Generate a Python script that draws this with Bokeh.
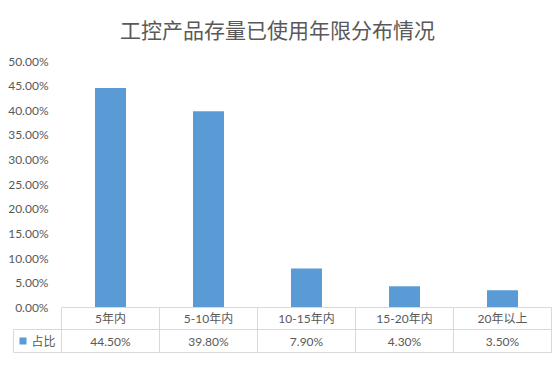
from bokeh.plotting import figure
from bokeh.models import Range1d, FixedTicker, PrintfTickFormatter
from bokeh.embed import file_html
from bokeh.resources import INLINE
from bokeh.core.properties import value

# ---- data ----
chart_title = "工控产品存量已使用年限分布情况"
categories = ["5年内", "5-10年内", "10-15年内", "15-20年内", "20年以上"]
shares = [44.5, 39.8, 7.9, 4.3, 3.5]
series_name = "占比"
y_ticks = [0, 5, 10, 15, 20, 25, 30, 35, 40, 45, 50]

# ---- style / layout constants (pixels) ----
W, H = 555, 365
LEFT, RIGHT = 12, 3          # frame spans nearly the whole canvas
PLOT_LEFT_PX = 61            # left edge of the category area
CELL_LEFT_PX = 13            # left edge of the data-table key cell
ZERO_PX = 307                # 0% baseline
HEAD_H, VAL_H = 22, 23       # data table row heights
TITLE_X_PX, TITLE_Y_PX = 277, 28
BAR_COLOR = "#5B9BD5"
TEXT_COLOR = "#595959"
GRID_COLOR = "#D9D9D9"
FONT = "Lato, Noto Sans CJK SC"

n = len(categories)
xs = list(range(n))
px_per_cat = 98.0
px_per_pct = 4.93


def xpx(px):
    """data x for a pixel column"""
    return -0.5 + (px - PLOT_LEFT_PX) / px_per_cat


def ypx(px):
    """data y for a pixel row"""
    return (ZERO_PX - px) / px_per_pct


p = figure(width=W, height=H, output_backend="svg", toolbar_location=None,
           title=None, x_axis_type=None,
           x_range=Range1d(xpx(LEFT), xpx(W - RIGHT)),
           y_range=Range1d(ypx(H), ypx(0)),
           min_border_left=LEFT, min_border_right=RIGHT,
           min_border_top=0, min_border_bottom=0)
p.outline_line_color = None
p.grid.visible = False
p.background_fill_color = "white"
p.border_fill_color = "white"

ax = p.yaxis[0]
ax.ticker = FixedTicker(ticks=y_ticks)
ax.formatter = PrintfTickFormatter(format="%.2f%%")
ax.axis_line_color = None
ax.major_tick_line_color = None
ax.minor_tick_line_color = None
ax.major_tick_out = 0
ax.minor_tick_out = 0
ax.major_label_standoff = -(48 - LEFT)
ax.major_label_text_font = FONT
ax.major_label_text_font_size = "12px"
ax.major_label_text_color = TEXT_COLOR

# title
p.text(x=[xpx(TITLE_X_PX)], y=[ypx(TITLE_Y_PX)], text=[chart_title],
       text_align="center", text_baseline="middle",
       text_font=value("Noto Sans CJK SC"), text_font_size="21px",
       text_color=TEXT_COLOR)

# bars
p.vbar(x=xs, top=shares, width=31 / px_per_cat, color=BAR_COLOR, line_color=None)

# ---- data table ----
y0 = 0
y1 = ypx(ZERO_PX + HEAD_H)
y2 = ypx(ZERO_PX + HEAD_H + VAL_H)
x_cell = xpx(CELL_LEFT_PX)
x_end = n - 0.5
bounds = [i - 0.5 for i in range(n + 1)]

p.segment(x0=[-0.5, x_cell, x_cell], y0=[y0, y1, y2],
          x1=[x_end, x_end, x_end], y1=[y0, y1, y2],
          line_color=GRID_COLOR, line_width=1)
p.segment(x0=bounds + [x_cell], y0=[y0] * len(bounds) + [y1],
          x1=bounds + [x_cell], y1=[y2] * (len(bounds) + 1),
          line_color=GRID_COLOR, line_width=1)

p.text(x=xs, y=[(y0 + y1) / 2] * n, text=categories, text_align="center",
       text_baseline="middle", text_font=value(FONT), text_font_size="12px",
       text_color=TEXT_COLOR)
p.text(x=xs, y=[(y1 + y2) / 2] * n, text=[f"{v:.2f}%" for v in shares],
       text_align="center", text_baseline="middle", text_font=value(FONT),
       text_font_size="12px", text_color=TEXT_COLOR)

# legend key cell
p.scatter(x=[xpx(CELL_LEFT_PX + 9.5)], y=[(y1 + y2) / 2], marker="square", size=7,
          color=BAR_COLOR, line_color=None)
p.text(x=[xpx(CELL_LEFT_PX + 18)], y=[(y1 + y2) / 2], text=[series_name],
       text_align="left", text_baseline="middle", text_font=value(FONT),
       text_font_size="12px", text_color=TEXT_COLOR)

open("out.html", "w").write(file_html(p, INLINE))
